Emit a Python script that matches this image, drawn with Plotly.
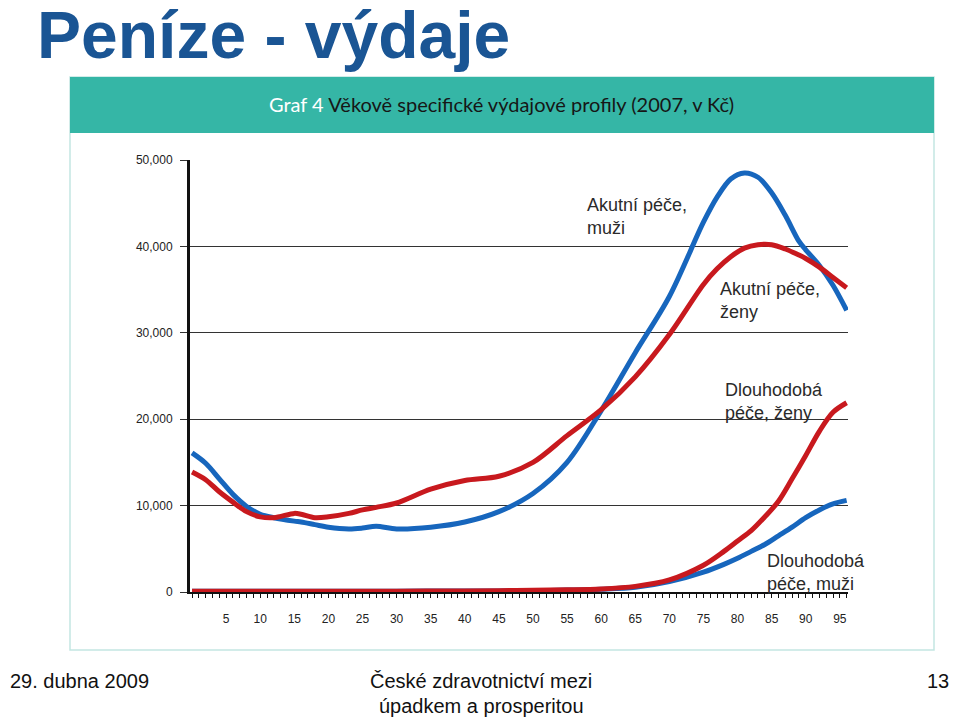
import plotly.graph_objects as go

# ---------------- data ----------------
ages_acute = [0, 2, 4, 6, 8, 10, 12, 15, 16, 18, 20, 23, 25, 27, 30, 35, 40, 45,
              50, 55, 60, 65, 70, 75, 77, 79, 81, 83, 85, 87, 89, 90, 92, 94, 96]

acute_men = [16100, 14900, 13100, 11300, 9900, 9000, 8600, 8200, 8100, 7800,
             7500, 7300, 7400, 7600, 7300, 7500, 8100, 9300, 11400, 15000,
             21000, 27700, 34200, 42800, 45700, 47800, 48500, 48000, 46200,
             43600, 40600, 39600, 37800, 35500, 32600]

acute_women = [13900, 13000, 11600, 10400, 9300, 8700, 8600, 9100, 9000, 8600,
               8700, 9100, 9500, 9800, 10300, 11900, 12900, 13400, 15000, 18100,
               21100, 24900, 29800, 35600, 37400, 38800, 39800, 40200, 40200,
               39700, 39000, 38600, 37600, 36400, 35200]

ages_long = [0, 10, 20, 30, 40, 45, 50, 55, 60, 65, 70, 75, 78, 80, 82, 84, 86,
             88, 90, 92, 94, 96]

longterm_women = [100, 100, 100, 100, 120, 150, 200, 250, 350, 650, 1400, 3100,
                  4700, 5900, 7100, 8700, 10500, 13100, 15800, 18600, 20800, 21900]

longterm_men = [100, 100, 100, 100, 110, 130, 160, 220, 330, 550, 1200, 2300,
                3200, 3900, 4700, 5500, 6500, 7500, 8600, 9500, 10200, 10600]

x_tick_vals = [5, 10, 15, 20, 25, 30, 35, 40, 45, 50, 55, 60, 65, 70, 75, 80, 85, 90, 95]
x_tick_text = [str(v) for v in x_tick_vals]
y_tick_vals = [0, 10000, 20000, 30000, 40000, 50000]
y_tick_text = ["0", "10,000", "20,000", "30,000", "40,000", "50,000"]

BLUE = "#1766bd"
RED = "#c8191e"

W, H = 960, 719
OFF = 8  # page body margin offset


def X(px):
    return (px - OFF) / W


def Y(py):
    return 1 - (py - OFF) / H


fig = go.Figure()

series = [
    (ages_long, longterm_men, BLUE, "Dlouhodobá péče, muži"),
    (ages_long, longterm_women, RED, "Dlouhodobá péče, ženy"),
    (ages_acute, acute_men, BLUE, "Akutní péče, muži"),
    (ages_acute, acute_women, RED, "Akutní péče, ženy"),
]
for xs, vals, col, name in series:
    fig.add_trace(go.Scatter(
        x=xs, y=vals, mode="lines", name=name,
        line=dict(color=col, width=5, shape="spline", smoothing=0.9),
        cliponaxis=False, showlegend=False, hoverinfo="skip"))

AX_FONT = dict(family="Liberation Sans, Arial, sans-serif", size=12, color="#222222")

fig.update_layout(
    template="none",
    width=W, height=H,
    margin=dict(l=0, r=0, t=0, b=0, pad=0, autoexpand=False),
    paper_bgcolor="white", plot_bgcolor="white",
    xaxis=dict(
        domain=[X(190), X(848)], range=[-0.3, 96.2],
        tickmode="array", tickvals=x_tick_vals, ticktext=x_tick_text,
        ticks="outside", ticklen=4, tickwidth=1, tickcolor="#111",
        minor=dict(dtick=1, tick0=0, ticks="outside", ticklen=4, tickwidth=1, tickcolor="#111"),
        ticklabelstandoff=11,
        showgrid=False, zeroline=False, automargin=False,
        showline=True, linecolor="#111", linewidth=2,
        tickfont=AX_FONT, fixedrange=True,
    ),
    yaxis=dict(
        domain=[Y(592), Y(160)], range=[0, 50000],
        tickmode="array", tickvals=y_tick_vals, ticktext=y_tick_text,
        ticks="outside", ticklen=7, tickwidth=1, tickcolor="#333",
        ticklabelstandoff=5,
        showgrid=True, gridcolor="#333", gridwidth=1,
        zeroline=False, automargin=False,
        showline=True, linecolor="#111", linewidth=3,
        tickfont=AX_FONT, fixedrange=True,
    ),
)

# frame + header of the embedded chart image
fig.add_shape(type="rect", xref="paper", yref="paper",
              x0=X(70), x1=X(934), y0=Y(650), y1=Y(77),
              line=dict(color="#c3e6e2", width=1.5), fillcolor="rgba(0,0,0,0)", layer="below")
fig.add_shape(type="rect", xref="paper", yref="paper",
              x0=X(70), x1=X(934), y0=Y(133), y1=Y(77),
              line=dict(width=0), fillcolor="#35b6a6", layer="below")

annotations = []
# slide title
annotations.append(dict(
    text="<b>Peníze - výdaje</b>", x=X(35), y=Y(35), xanchor="left", yanchor="middle",
    font=dict(family="Liberation Sans, Arial, sans-serif", size=66, color="#1a5594")))
# header text
annotations.append(dict(
    text="<span style='color:white'>Graf 4</span> Věkově specifické výdajové profily (2007, v Kč)",
    x=X(501), y=Y(104), xanchor="center", yanchor="middle",
    font=dict(family="Lato, Open Sans, sans-serif", size=20, color="#161616")))

LBL_FONT = dict(family="Liberation Sans, Arial, sans-serif", size=18, color="#2a2a2a")
labels = [
    ("Akutní péče,<br>muži", 585, 216),
    ("Akutní péče,<br>ženy", 718, 300),
    ("Dlouhodobá<br>péče, ženy", 723, 401),
    ("Dlouhodobá<br>péče, muži", 765, 572),
]
for t, px, py in labels:
    annotations.append(dict(text=t, x=X(px), y=Y(py), xanchor="left", yanchor="middle",
                            align="left", font=LBL_FONT))

FOOT = dict(family="Liberation Sans, Arial, sans-serif", size=20, color="#111111")
annotations.append(dict(text="29. dubna 2009", x=X(8), y=Y(681), xanchor="left",
                        yanchor="middle", font=FOOT))
annotations.append(dict(text="České zdravotnictví mezi", x=X(481), y=Y(681),
                        xanchor="center", yanchor="middle", font=FOOT))
annotations.append(dict(text="úpadkem a prosperitou", x=X(481), y=Y(706),
                        xanchor="center", yanchor="middle", font=FOOT))
annotations.append(dict(text="13", x=X(951), y=Y(681), xanchor="right",
                        yanchor="middle", font=FOOT))

for a in annotations:
    a.update(xref="paper", yref="paper", showarrow=False)
fig.update_layout(annotations=annotations)

fig.write_html("out.html")
